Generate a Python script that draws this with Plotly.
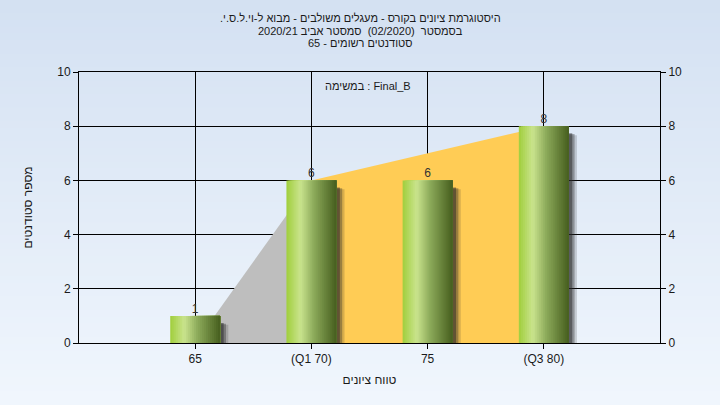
import plotly.graph_objects as go

# ---- data ----
categories = ["65", "(Q1 70)", "75", "(Q3 80)"]
counts = [1, 6, 6, 8]
area_values = [0, 6, 7, 8]   # background area series
q1_index = 1
q3_index = 3
title_lines = [
    "היסטוגרמת ציונים בקורס - מעגלים משולבים - מבוא ל-וי.ל.ס.י.",
    "בסמסטר  (02/2020)  סמסטר אביב 2020/21",
    "סטודנטים רשומים - 65",
]
legend_text = "במשימה : Final_B"
x_title = "טווח ציונים"
y_title = "מספר סטודנטים"
y_ticks = [0, 2, 4, 6, 8, 10]

RLE, PDF = "\u202b", "\u202c"
FONT = "Liberation Sans, DejaVu Sans, Arial, sans-serif"

W, H = 720, 405
ML, MR, MT, MB = 79, 60, 72, 62
pw, ph = W - ML - MR, H - MT - MB

xs = list(range(len(categories)))
fig = go.Figure()

# area series (main subplot, under the bars): gray before Q1, orange between Q1 and Q3
fig.add_trace(go.Scatter(x=xs[:q1_index + 1], y=area_values[:q1_index + 1], mode="lines",
                         line=dict(width=0), fill="tozeroy", fillcolor="rgb(190,190,190)",
                         hoverinfo="skip", showlegend=False))
fig.add_trace(go.Scatter(x=xs[q1_index:q3_index + 1], y=area_values[q1_index:q3_index + 1], mode="lines",
                         line=dict(width=0), fill="tozeroy", fillcolor="rgb(255,204,85)",
                         hoverinfo="skip", showlegend=False))

# dummy trace for right axis
fig.add_trace(go.Scatter(x=[0], y=[0], yaxis="y2", mode="markers", marker=dict(opacity=0),
                         hoverinfo="skip", showlegend=False))

bw = 0.43
# shadows (overlay subplot)
for off, op, drop in [(0.07, 0.18, 0.33), (0.05, 0.35, 0.29), (0.03, 0.5, 0.26)]:
    fig.add_trace(go.Bar(x=xs, y=[v - drop for v in counts], base=0, width=bw,
                         offset=-bw / 2 + off, xaxis="x2", yaxis="y3",
                         marker=dict(color=f"rgba(40,40,40,{op})", line=dict(width=0)),
                         hoverinfo="skip", showlegend=False))

# cylinder-like gradient bars
def lerp(c1, c2, t):
    return tuple(round(a + (b - a) * t) for a, b in zip(c1, c2))

stops = [(0.0, (160, 206, 60)), (0.28, (202, 228, 142)), (0.55, (140, 170, 90)), (1.0, (70, 94, 30))]
def grad(t):
    for (t0, c0), (t1, c1) in zip(stops[:-1], stops[1:]):
        if t <= t1:
            return lerp(c0, c1, (t - t0) / (t1 - t0))
    return stops[-1][1]

N = 25
sw = bw / N
for i in range(N):
    c = grad((i + 0.5) / N)
    fig.add_trace(go.Bar(x=xs, y=counts, width=bw - i * sw, offset=-bw / 2 + i * sw,
                         xaxis="x2", yaxis="y3",
                         marker=dict(color=f"rgb{c}", line=dict(width=0)),
                         hoverinfo="skip", showlegend=False))

# data labels
fig.add_trace(go.Scatter(x=xs, y=counts, mode="text", text=[str(v) for v in counts],
                         xaxis="x2", yaxis="y3",
                         textposition="top center", textfont=dict(family=FONT, size=12, color="#333333"),
                         hoverinfo="skip", showlegend=False, cliponaxis=False))

# background gradient bands
shapes = []
nb = 60
top_c, bot_c = (212, 225, 242), (240, 246, 253)
y_lo, y_hi = -MB / ph, 1 + MT / ph
for i in range(nb):
    t = i / (nb - 1)
    c = lerp(top_c, bot_c, t)
    y1 = y_hi - (y_hi - y_lo) * i / nb
    y0 = y_hi - (y_hi - y_lo) * (i + 1) / nb
    shapes.append(dict(type="rect", xref="paper", yref="paper", x0=-ML / pw - 0.02, x1=1 + MR / pw + 0.02,
                       y0=y0 - 0.002, y1=y1 + 0.002, fillcolor=f"rgb{c}", line=dict(width=0), layer="below"))

axis_font = dict(family=FONT, size=12, color="#1a1a1a")
title_font = dict(family=FONT, size=11, color="#1a1a1a")
annotations = []
for k, (line, ypx) in enumerate(zip(title_lines, [18, 31, 43])):
    annotations.append(dict(text=RLE + line + PDF, xref="paper", yref="paper",
                            x=(360 - ML) / pw, y=1 + (MT - ypx) / ph, xanchor="center", yanchor="middle",
                            showarrow=False, font=title_font))
annotations.append(dict(text=legend_text, xref="paper", yref="paper", x=(368 - ML) / pw, y=1 - 14 / ph,
                        xanchor="center", yanchor="middle", showarrow=False, font=title_font))

fig.update_layout(
    width=W, height=H,
    margin=dict(l=ML, r=MR, t=MT, b=MB, autoexpand=False),
    paper_bgcolor="rgb(226,236,248)",
    plot_bgcolor="rgb(179,179,179)",
    barmode="overlay",
    shapes=shapes,
    xaxis=dict(range=[-1, 4], tickvals=xs, ticktext=categories, showgrid=True, gridcolor="black",
               gridwidth=1, showline=True, linecolor="black", linewidth=1, mirror=True,
               ticks="outside", ticklen=5, tickcolor="black", tickfont=axis_font, zeroline=False,
               title=dict(text=x_title, font=dict(family=FONT, size=12, color="#1a1a1a"), standoff=10)),
    yaxis=dict(range=[0, 10], tickvals=y_ticks, showgrid=True, gridcolor="black", gridwidth=1,
               showline=True, linecolor="black", linewidth=1, mirror=True, ticks="outside",
               ticklen=5, tickcolor="black", tickfont=axis_font, zeroline=False,
               title=dict(text=y_title, font=dict(family=FONT, size=12, color="#1a1a1a"), standoff=22)),
    yaxis2=dict(range=[0, 10], tickvals=y_ticks, overlaying="y", side="right", showgrid=False,
                ticks="outside", ticklen=5, tickcolor="black", tickfont=axis_font, zeroline=False,
                showline=False),
    xaxis2=dict(range=[-1, 4], overlaying="x", visible=False),
    yaxis3=dict(range=[0, 10], overlaying="y", visible=False),
    annotations=annotations,
)

fig.write_html("out.html", config={"displayModeBar": False},
               post_script="document.body.style.margin='0';document.body.style.overflow='hidden';")
